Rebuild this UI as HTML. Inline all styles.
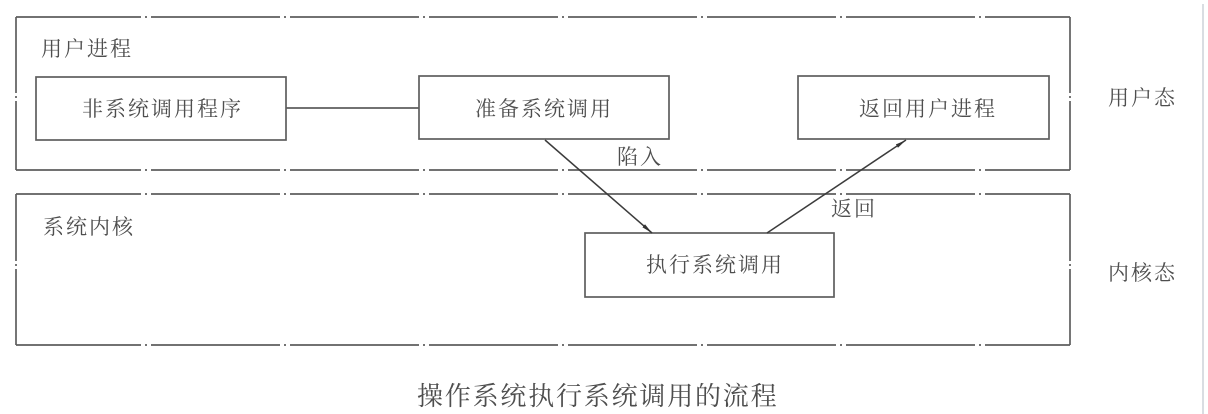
<!DOCTYPE html>
<html>
<head>
<meta charset="utf-8">
<style>
  html,body{margin:0;padding:0;background:#fff;}
  svg{display:block;}
  text{font-family:"Liberation Serif","Noto Serif CJK SC",serif;fill:#4e4e4e;}
</style>
</head>
<body>
<svg width="1208" height="414" viewBox="0 0 1208 414" xmlns="http://www.w3.org/2000/svg">
  <defs>
    <marker id="ah" markerUnits="userSpaceOnUse" markerWidth="12" markerHeight="6" refX="11" refY="3" orient="auto">
      <path d="M0,1 L11,3 L0,5 Z" fill="#333"/>
    </marker>
  </defs>

  <!-- right light gray line -->
  <line x1="1203" y1="4" x2="1203" y2="414" stroke="#d9dde2" stroke-width="2"/>

  <g stroke="#5e5e5e" stroke-width="1.7" fill="none">
    <!-- outer box 1 -->
    <line x1="16" y1="17" x2="1070" y2="17" stroke-dasharray="129 4 2 4" stroke-dashoffset="4"/>
    <line x1="16" y1="170" x2="1070" y2="170" stroke-dasharray="129 4 2 4" stroke-dashoffset="4"/>
    <line x1="16" y1="17" x2="16" y2="93"/>
    <line x1="16" y1="96" x2="16" y2="98"/>
    <line x1="16" y1="101" x2="16" y2="170"/>
    <line x1="1070" y1="17" x2="1070" y2="93"/>
    <line x1="1070" y1="96" x2="1070" y2="98"/>
    <line x1="1070" y1="101" x2="1070" y2="170"/>

    <!-- outer box 2 -->
    <line x1="16" y1="194" x2="1070" y2="194" stroke-dasharray="129 4 2 4" stroke-dashoffset="4"/>
    <line x1="16" y1="345" x2="1070" y2="345" stroke-dasharray="129 4 2 4" stroke-dashoffset="4"/>
    <line x1="16" y1="194" x2="16" y2="261"/>
    <line x1="16" y1="264" x2="16" y2="266"/>
    <line x1="16" y1="269" x2="16" y2="345"/>
    <line x1="1070" y1="194" x2="1070" y2="261"/>
    <line x1="1070" y1="264" x2="1070" y2="266"/>
    <line x1="1070" y1="269" x2="1070" y2="345"/>

    <!-- inner boxes -->
    <rect x="36" y="77" width="250" height="63"/>
    <rect x="419" y="76" width="250" height="63"/>
    <rect x="798" y="76" width="251" height="63"/>
    <rect x="585" y="233" width="249" height="64"/>

    <!-- connector -->
    <line x1="286" y1="108" x2="419" y2="108"/>
  </g>

  <!-- arrows -->
  <g stroke="#3c3c3c" stroke-width="1.5" fill="none">
    <line x1="545" y1="140" x2="652" y2="233" marker-end="url(#ah)"/>
    <line x1="767" y1="233" x2="906" y2="140" marker-end="url(#ah)"/>
  </g>

  <!-- labels -->
  <g font-size="21" letter-spacing="2">
    <text x="41" y="56">用户进程</text>
    <text x="82" y="116">非系统调用程序</text>
    <text x="475" y="116">准备系统调用</text>
    <text x="859" y="116">返回用户进程</text>
    <text x="617" y="164">陷入</text>
    <text x="831" y="216">返回</text>
    <text x="43" y="234">系统内核</text>
    <text x="646" y="272">执行系统调用</text>
    <text x="1108" y="105">用户态</text>
    <text x="1108" y="280">内核态</text>
  </g>
  <text x="417" y="405" font-size="26" letter-spacing="1.8">操作系统执行系统调用的流程</text>
</svg>
</body>
</html>
